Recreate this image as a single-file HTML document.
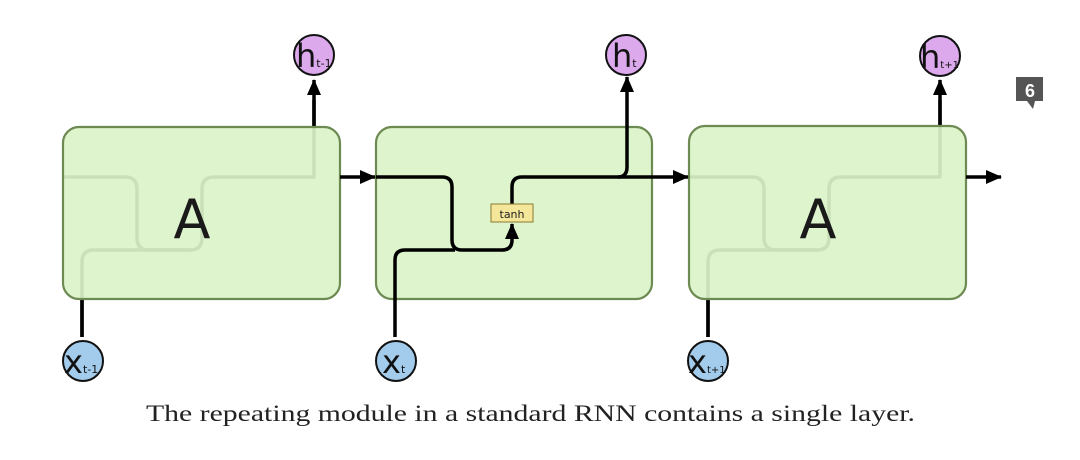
<!DOCTYPE html>
<html><head><meta charset="utf-8"><style>
html,body{margin:0;padding:0;background:#fff;}
svg{display:block;}
</style></head><body>
<svg width="1080" height="460" viewBox="0 0 1080 460" xmlns="http://www.w3.org/2000/svg">
<defs>
<marker id="ar" markerWidth="16" markerHeight="14" refX="15" refY="7" orient="auto" markerUnits="userSpaceOnUse" viewBox="0 0 16 14">
<path d="M0,0 L16,7 L0,14 z" fill="#000"/>
</marker>
</defs>
<g fill="none" stroke="#000" stroke-width="3.5" stroke-linejoin="round">
<path d="M63,177 H125 Q137,177 137,189 V238 Q137,250 149,250 H190 Q202,250 202,238 V189 Q202,177 214,177 H314 V100" />
<path d="M82,337 V262 Q82,250 94,250 H190" />
<path d="M314,127 V80" marker-end="url(#ar)"/>
<path d="M82,299 V337"/>
<path d="M689,177 H752 Q764,177 764,189 V238 Q764,250 776,250 H817 Q829,250 829,238 V189 Q829,177 841,177 H940 V100" />
<path d="M708,337 V262 Q708,250 720,250 H817" />
<path d="M940,127 V80" marker-end="url(#ar)"/>
<path d="M708,299 V337"/>
</g>
<g stroke="#6d8a53" stroke-width="2.2" fill="#dbf3c8" fill-opacity="0.92">
<rect x="63" y="127" width="277" height="172" rx="16"/>
<rect x="376" y="127" width="276" height="172" rx="16"/>
<rect x="689" y="126" width="277" height="173" rx="16"/>
</g>
<g fill="none" stroke="#000" stroke-width="3.5" stroke-linejoin="round">
<path d="M340,177 H375" marker-end="url(#ar)"/>
<path d="M376,177 H442 Q452,177 452,187 V240 Q452,250 462,250 H502 Q512,250 512,240 V224" marker-end="url(#ar)"/>
<path d="M395,337 V260 Q395,250 405,250 H455"/>
<path d="M512,204 V187 Q512,177 522,177 H618 Q627,177 627,167 V77" marker-end="url(#ar)"/>
<path d="M618,177 H688" marker-end="url(#ar)"/>
<path d="M966,177 H1001" marker-end="url(#ar)"/>
</g>
<rect x="491" y="204" width="42" height="18" fill="#f5e79a" stroke="#8a7a30" stroke-width="1"/>
<text x="512" y="218" text-anchor="middle" font-family="DejaVu Sans, sans-serif" font-size="11" fill="#222">tanh</text>
<g font-family="DejaVu Sans, sans-serif" fill="#1a1a1a">
<text x="192" y="238" text-anchor="middle" font-size="54">A</text>
<text x="818" y="238" text-anchor="middle" font-size="54">A</text>
</g>
<g stroke="#111" stroke-width="2">
<circle cx="314" cy="55" r="20" fill="#dba9ec"/>
<circle cx="626" cy="55" r="20" fill="#dba9ec"/>
<circle cx="940" cy="56" r="20" fill="#dba9ec"/>
<circle cx="83" cy="361" r="20" fill="#a3cbeb"/>
<circle cx="396" cy="361" r="20" fill="#a3cbeb"/>
<circle cx="708" cy="361" r="20" fill="#a3cbeb"/>
</g>
<g font-family="DejaVu Sans, sans-serif" fill="#111">
<text x="296" y="67" font-size="32">h<tspan font-size="11">t-1</tspan></text>
<text x="612" y="67" font-size="32">h<tspan font-size="11">t</tspan></text>
<text x="920" y="68" font-size="32">h<tspan font-size="10">t+1</tspan></text>
<text x="64" y="373" font-size="32">x<tspan font-size="11">t-1</tspan></text>
<text x="382" y="373" font-size="32">x<tspan font-size="11">t</tspan></text>
<text x="688" y="373" font-size="32">x<tspan font-size="10">t+1</tspan></text>
</g>
<path d="M1016,77 H1043 V101 H1035 L1033,109 L1027,101 H1016 Z" fill="#555"/>
<text x="1030" y="97" text-anchor="middle" font-family="Liberation Sans, sans-serif" font-weight="bold" font-size="18" fill="#fff">6</text>
<text x="146" y="421" font-family="Liberation Serif, serif" font-size="23" fill="#222" textLength="769" lengthAdjust="spacingAndGlyphs">The repeating module in a standard RNN contains a single layer.</text>
</svg>
</body></html>
